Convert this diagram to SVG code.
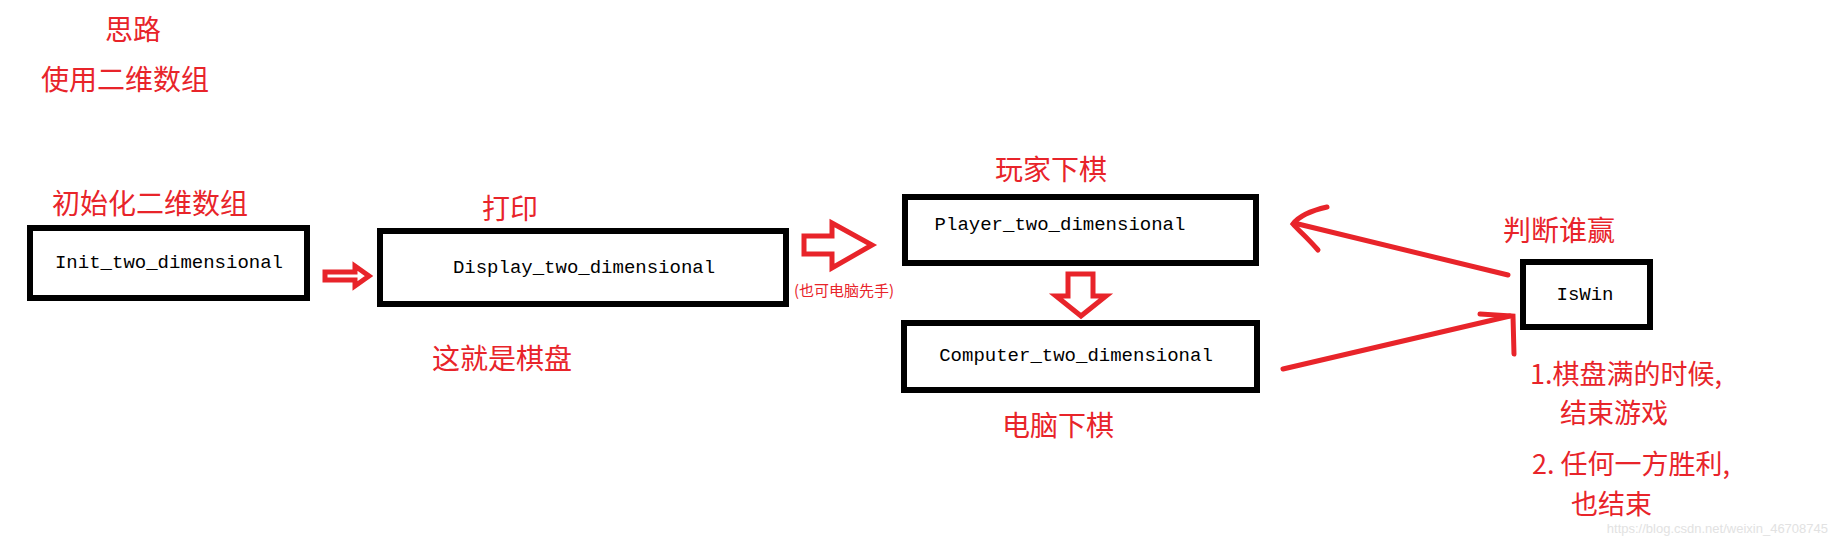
<svg xmlns="http://www.w3.org/2000/svg" width="1832" height="536" viewBox="0 0 1832 536">
<style>
.box{fill:none;stroke:#000;stroke-width:6}
.lbl{font-family:"Liberation Mono",monospace;font-size:19px;fill:#000;text-anchor:middle}
.red{font-family:"Noto Sans CJK SC",sans-serif;fill:#e8242a;font-size:28px}
.ra{fill:none;stroke:#e8242a;stroke-width:5;stroke-linejoin:miter}
.rl{fill:none;stroke:#e8242a;stroke-width:5;stroke-linecap:round}
</style>
<rect width="1832" height="536" fill="#fff"/>
<text class="red" x="105" y="40">思路</text>
<text class="red" x="41" y="90">使用二维数组</text>
<text class="red" x="52" y="214">初始化二维数组</text>
<text class="red" x="482" y="219">打印</text>
<text class="red" x="432" y="369">这就是棋盘</text>
<text class="red" x="995" y="180">玩家下棋</text>
<text class="red" x="1002" y="436">电脑下棋</text>
<text class="red" x="1503" y="241">判断谁赢</text>
<text class="red" x="794" y="296" style="font-size:15px">(也可电脑先手)</text>
<text class="red" x="1530" y="384" style="font-size:27px">1.棋盘满的时候,</text>
<text class="red" x="1560" y="423" style="font-size:27px">结束游戏</text>
<text class="red" x="1532" y="474" style="font-size:27px">2. 任何一方胜利,</text>
<text class="red" x="1571" y="514" style="font-size:27px">也结束</text>
<text x="1828" y="533" text-anchor="end" style="font-family:'Liberation Sans',sans-serif;font-size:13px;fill:#e2e2e2">https://blog.csdn.net/weixin_46708745</text>
<g id="init"><rect class="box" x="30" y="228" width="277" height="70"/><text class="lbl" x="169" y="268">Init_two_dimensional</text></g>
<g id="display"><rect class="box" x="380" y="231" width="406" height="73"/><text class="lbl" x="584" y="273">Display_two_dimensional</text></g>
<g id="player"><rect class="box" x="905" y="197" width="351" height="66"/><text class="lbl" x="1060" y="230">Player_two_dimensional</text></g>
<g id="computer"><rect class="box" x="904" y="323" width="353" height="67"/><text class="lbl" x="1076" y="361">Computer_two_dimensional</text></g>
<g id="iswin"><rect class="box" x="1523" y="262" width="127" height="65"/><text class="lbl" x="1585" y="300">IsWin</text></g>
<g id="connectors">
<path class="ra" d="M325 272 H355 V266 L369 276 L355 286 V280 H325 Z" stroke-width="4"/>
<path class="ra" d="M804 236 H832 V223 L872 245 L832 268 V254 H804 Z"/>
<path class="ra" d="M1068 274 H1093 V296 H1106 L1081 316 L1056 296 H1068 Z"/>
<path class="rl" d="M1508 275 L1294 223"/>
<path class="rl" d="M1327 207 C1305 212 1296 220 1293 224 C1298 230 1306 236 1318 250"/>
<path class="rl" d="M1283 369 L1510 316"/>
<path class="rl" d="M1480 314 L1513 316 L1514 354"/>
</g>
</svg>
